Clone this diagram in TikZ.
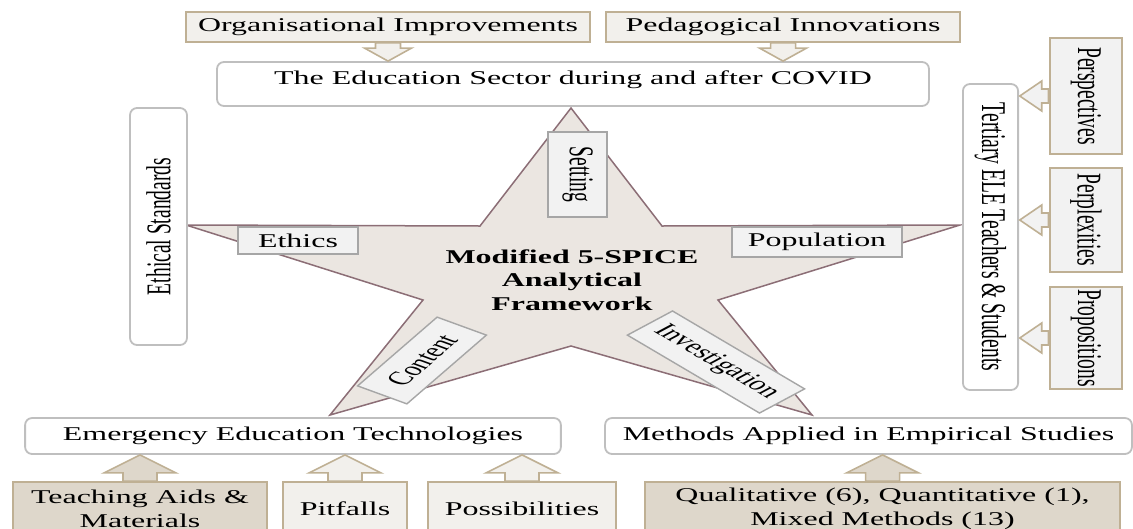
\documentclass[tikz,border=0pt]{standalone}
\usepackage{fontspec}
\setmainfont{Liberation Serif}[FakeStretch=0.92]
\newfontfamily\vertfont{Liberation Serif}
\usetikzlibrary{calc}
\definecolor{tanline}{HTML}{BFB094}
\definecolor{lightfill}{HTML}{F2F0EC}
\definecolor{darkfill}{HTML}{DED7CB}
\definecolor{starfill}{HTML}{EBE6E1}
\definecolor{starline}{HTML}{8C6E76}
\definecolor{tagfill}{HTML}{F2F2F2}
\definecolor{tagline}{HTML}{A6A6A6}
\definecolor{boxline}{HTML}{BFBFBF}
\newcommand{\arrowdown}[3]{\draw[blockarrow,fill=#3] (#1.south |- #2.north) -- ++(23.5,-13) -- ++(-11,0) -- ($(#1.south)+(12.5,0)$) -- ($(#1.south)+(-12.5,0)$) -- ($(#1.south |- #2.north)+(-12.5,-13)$) -- ($(#1.south |- #2.north)+(-23.5,-13)$) -- cycle;}
\newcommand{\arrowup}[3]{\draw[blockarrow,fill=#3] (#1.north |- #2.south) -- ++(36,18) -- ++(-19,0) -- ($(#1.north)+(17,0)$) -- ($(#1.north)+(-17,0)$) -- ($(#1.north |- #2.south)+(-17,18)$) -- ($(#1.north |- #2.south)+(-36,18)$) -- cycle;}
\newcommand{\arrowleft}[3]{\draw[blockarrow,fill=#3] (#2.east |- #1.west) -- ++(22,-15) -- ++(0,8) -- ($(#1.west)+(0,-7)$) -- ($(#1.west)+(0,7)$) -- ($(#2.east |- #1.west)+(22,7)$) -- ($(#2.east |- #1.west)+(22,15)$) -- cycle;}
\newcommand{\vtext}[2]{\rotatebox{#1}{\vertfont #2}}

\begin{document}
\begin{tikzpicture}[x=0.5618pt,y=-1pt,xscale=1.78,
  every node/.style={transform shape,font=\fontsize{19.5}{24}\selectfont,inner sep=0pt},
  roundbox/.style={draw=boxline,line width=1.8pt,fill=white,rounded corners=7pt},
  tanbox/.style={draw=tanline,line width=1.8pt,fill=#1},
  tagbox/.style={draw=tagline,line width=1.4pt,fill=tagfill},
  blockarrow/.style={draw=tanline,line width=1.6pt,line join=miter}]
\useasboundingbox (0,0) rectangle (1133,528);
\draw[fill=starfill,draw=starline,line width=1.5pt] (571,108) -- (662,226) -- (960,225) -- (718,300) -- (812,415) -- (571,346) -- (330,415) -- (423,300) -- (186,225) -- (480,226) -- cycle;

\node[tanbox=lightfill,minimum width=227,minimum height=30] (orgimp) at (388,27) {Organisational Improvements};
\node[tanbox=lightfill,minimum width=199,minimum height=30] (pedinn) at (783,27) {Pedagogical Innovations};
\node[roundbox,minimum width=400,minimum height=44,text depth=12pt] (edusec) at (573,84) {The Education Sector during and after COVID};

\node[roundbox,minimum width=32,minimum height=237] (ethical) at (158.5,226.5) {\vtext{90}{Ethical Standards}};
\node[roundbox,minimum width=31,minimum height=306] (tertiary) at (990.5,237) {\vtext{-90}{Tertiary ELE Teachers \& Students}};
\node[tanbox=tagfill,minimum width=40.4,minimum height=116] (perspect) at (1086,96) {\vtext{-90}{Perspectives}};
\node[tanbox=tagfill,minimum width=40.4,minimum height=104] (perplex) at (1086,220) {\vtext{-90}{Perplexities}};
\node[tanbox=tagfill,minimum width=40.4,minimum height=102] (propos) at (1086,338) {\vtext{-90}{Propositions}};

\node[roundbox,minimum width=301,minimum height=36] (emerg) at (293,436) {Emergency Education Technologies};
\node[roundbox,minimum width=296,minimum height=36] (methods) at (868.5,436) {Methods Applied in Empirical Studies};
\node[tanbox=darkfill,minimum width=142.7,minimum height=54,align=center] (teach) at (140,509) {Teaching Aids \&\\Materials};
\node[tanbox=lightfill,minimum width=69.7,minimum height=54] (pitfalls) at (345,509) {Pitfalls};
\node[tanbox=lightfill,minimum width=106,minimum height=54] (possib) at (522,509) {Possibilities};
\node[tanbox=darkfill,minimum width=267,minimum height=54,align=center] (qualit) at (882.5,509) {Qualitative (6), Quantitative (1),\\Mixed Methods (13)};

\arrowdown{orgimp}{edusec}{lightfill}
\arrowdown{pedinn}{edusec}{lightfill}
\arrowleft{perspect}{tertiary}{tagfill}
\arrowleft{perplex}{tertiary}{tagfill}
\arrowleft{propos}{tertiary}{tagfill}
\arrowup{teach}{emerg}{darkfill}
\arrowup{pitfalls}{emerg}{lightfill}
\arrowup{possib}{emerg}{lightfill}
\arrowup{qualit}{methods}{darkfill}

\node[tagbox,minimum width=33,minimum height=85] (setting) at (577.5,174.5) {\vtext{-90}{Setting}};
\node[tagbox,minimum width=67.4,minimum height=27] (ethics) at (298,240.5) {Ethics};
\node[tagbox,minimum width=95.5,minimum height=30] (population) at (817,242) {Population};
\node[tagbox,minimum width=82,minimum height=33,rotate=57] (content) at (422,360.5) {Content};
\node[tagbox,minimum width=107.6,minimum height=35,rotate=-46.4] (investig) at (716,362) {Investigation};
\node[font=\fontsize{19.5}{23.5}\selectfont\bfseries,align=center] (core) at (572,280) {Modified 5-SPICE\\Analytical\\Framework};
\end{tikzpicture}
\end{document}
